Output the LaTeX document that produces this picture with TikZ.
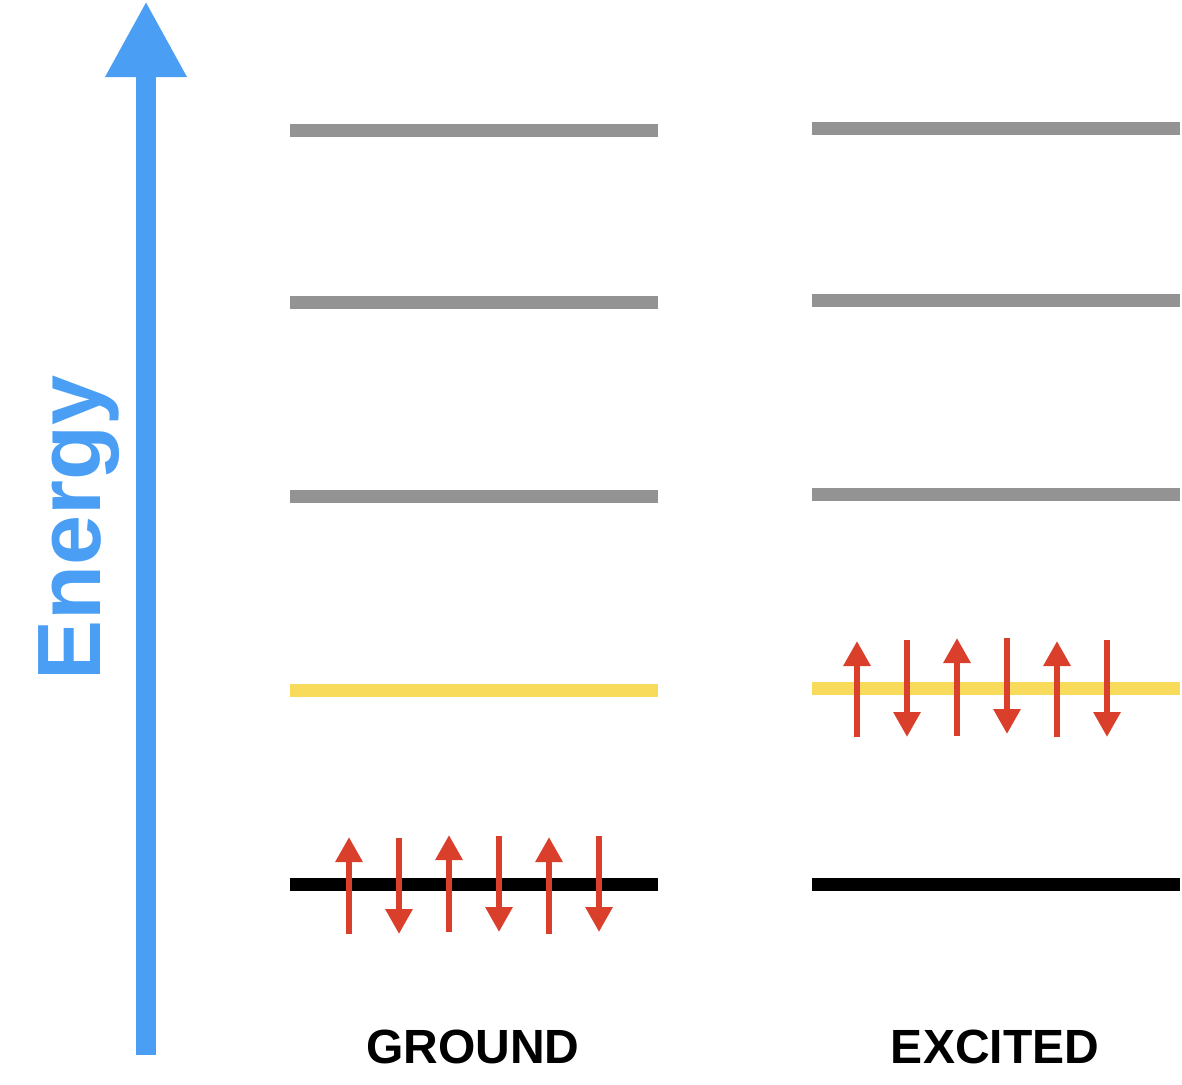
\documentclass[tikz,border=0pt]{standalone}
\usepackage{fontspec}
\setmainfont{Liberation Sans}
\usetikzlibrary{arrows.meta}
\definecolor{eblue}{RGB}{74,159,245}
\definecolor{lgray}{RGB}{147,147,147}
\definecolor{lyellow}{RGB}{249,219,92}
\definecolor{ered}{RGB}{218,63,43}
\tikzset{
  level/.style={line width=13pt},
  grayl/.style={level, lgray},
  yell/.style={level, lyellow},
  blackl/.style={level, black},
  elec/.style={ered, line width=6pt, -{Triangle[length=25pt,width=26pt]}},
  axisarrow/.style={eblue, line width=20pt, -{Triangle[length=76pt,width=76pt]}},
  lbl/.style={font=\bfseries\fontsize{48}{50}\selectfont, anchor=base, inner sep=0pt},
}
\begin{document}
\begin{tikzpicture}[x=1pt,y=-1pt]
\useasboundingbox (0,0) rectangle (1182,1084);
% energy axis
\coordinate (ebot) at (146,1055);
\coordinate (etop) at (146,1);
\draw[axisarrow] (ebot) -- (etop);
\node[eblue, rotate=90, anchor=base, inner sep=0pt, font=\bfseries\fontsize{90}{94}\selectfont] (energy) at (100,528) {Energy};
% ground levels
\draw[grayl] (290,130) -- (658,130);
\draw[grayl] (290,302) -- (658,302);
\draw[grayl] (290,496) -- (658,496);
\draw[yell] (290,690) -- (658,690);
\draw[blackl] (290,884) -- (658,884);
% excited levels
\draw[grayl] (812,128) -- (1180,128);
\draw[grayl] (812,300) -- (1180,300);
\draw[grayl] (812,494) -- (1180,494);
\draw[yell] (812,688) -- (1180,688);
\draw[blackl] (812,884) -- (1180,884);
% ground electrons
\coordinate (g1a) at (349,934); \coordinate (g1b) at (349,837);
\coordinate (g2a) at (399,838); \coordinate (g2b) at (399,934);
\coordinate (g3a) at (449,932); \coordinate (g3b) at (449,835);
\coordinate (g4a) at (499,836); \coordinate (g4b) at (499,932);
\coordinate (g5a) at (549,934); \coordinate (g5b) at (549,837);
\coordinate (g6a) at (599,836); \coordinate (g6b) at (599,932);
\foreach \i in {1,...,6} \draw[elec] (g\i a) -- (g\i b);
% excited electrons
\coordinate (x1a) at (857,737); \coordinate (x1b) at (857,641);
\coordinate (x2a) at (907,640); \coordinate (x2b) at (907,737);
\coordinate (x3a) at (957,736); \coordinate (x3b) at (957,638);
\coordinate (x4a) at (1007,638); \coordinate (x4b) at (1007,734);
\coordinate (x5a) at (1057,737); \coordinate (x5b) at (1057,641);
\coordinate (x6a) at (1107,640); \coordinate (x6b) at (1107,737);
\foreach \i in {1,...,6} \draw[elec] (x\i a) -- (x\i b);
% labels
\node[lbl] (ground) at (473,1063) {GROUND};
\node[lbl] (excited) at (995,1063) {EXCITED};
\end{tikzpicture}
\end{document}
